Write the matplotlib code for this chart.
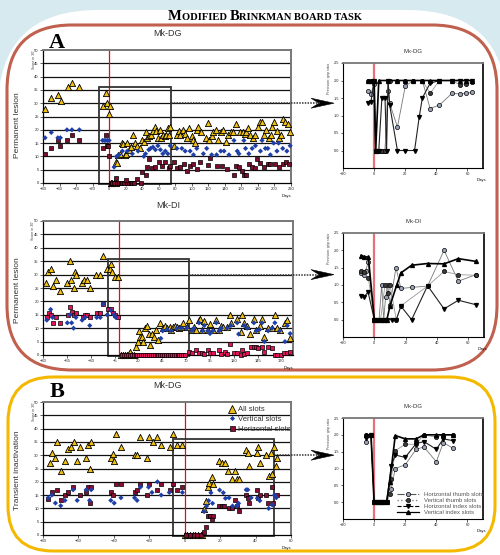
import numpy as np
import matplotlib
matplotlib.use('Agg')
import matplotlib.pyplot as plt
from matplotlib.patches import FancyBboxPatch, Rectangle, Polygon
from matplotlib.lines import Line2D
from matplotlib.offsetbox import TextArea, HPacker, AnnotationBbox

plt.rcParams['font.family'] = ['Liberation Sans', 'DejaVu Sans']

# ---------------- data ----------------
# A top: Mk-DG permanent lesion, score in 30'
a1_all = [(-77, 28), (-70, 32), (-62, 33), (-58, 31), (-50, 36), (-45, 37.5), (-36, 36),
          (-8, 29), (-4, 34), (-2, 30), (0, 26), (1, 29), (2, 0), (4, 0), (6, 0), (8, 0),
          (8, 8), (10, 7.5), (11, 10.5), (13, 11), (15, 15), (17, 14.5), (19, 10.5), (21, 11),
          (22, 15), (24, 12.5), (26, 13.5), (29, 18), (31, 15), (34, 14), (37, 13), (40, 16),
          (42, 15.5), (44, 19), (46, 17), (48, 17.5), (51, 18), (53, 19.5), (55, 21), (57, 19.5),
          (59, 17), (61, 20), (63, 17), (65, 18), (67, 17.5), (69, 18), (71, 20.5), (73, 18),
          (74, 21), (78, 14), (82, 18), (84, 19.5), (86, 18), (89, 20), (92, 18.5), (94, 17),
          (97, 20.5), (100, 17.5), (102, 16), (104, 15), (106, 20), (108, 21), (111, 19),
          (117, 17), (119, 22.5), (121, 16), (124, 17.5), (126, 19), (129, 20), (132, 16),
          (135, 19), (138, 20), (141, 15.5), (144, 18), (147, 19), (150, 19), (154, 22),
          (158, 19), (162, 19), (164, 18.5), (166, 19), (168, 20.5), (171, 18), (174, 17),
          (177, 18), (180, 21), (182, 23), (185, 23), (187, 18), (190, 20), (193, 17), (196, 18),
          (197, 21), (200, 23), (203, 19.5), (205, 17), (208, 18), (210, 24), (213, 23),
          (216, 22), (219, 19)]
a1_vert = [(-77.5, 17), (-70, 19), (-62, 17), (-59, 17), (-51, 20), (-45, 20), (-36, 20),
           (-8, 16), (-6, 16), (-4, 16), (-2, 16), (0, 16), (6, 6), (9, 10), (12, 10.6), (16, 12),
           (22, 12), (28, 11), (35, 12), (42, 10), (44, 11), (48, 12.5), (50, 13), (53, 13.5),
           (56, 12.5), (59, 14), (62, 12.5), (65, 11), (68, 12), (71, 11), (74, 14), (82, 13),
           (88, 13), (92, 12), (98, 12), (102, 10.6), (106, 13), (114, 11), (118, 13),
           (124, 10.6), (130, 10.6), (135, 12), (139, 12), (145, 10.6), (151, 16), (155, 12),
           (157, 11), (163, 16), (165, 13), (169, 11), (173, 13), (177, 14), (183, 12), (185, 16),
           (189, 13), (192, 13), (195, 10.6), (199, 15), (203, 12), (205, 15), (210, 13),
           (215, 12), (219, 14)]
a1_hor = [(-77, 11), (-70, 13), (-62, 16), (-59, 14), (-51, 16), (-45, 18), (-36, 16),
          (-8, 13), (-4, 18), (-2.5, 14), (-1, 14), (0, 10), (2, 0), (4, 0), (6, 0), (10, 0),
          (12, 0), (14, 0), (16, 0), (18, 0), (22, 0), (24, 0), (26, 0), (28, 0), (30, 0),
          (8, 2), (20, 1), (34, 1.5), (38, 0), (40, 4), (44, 3), (46, 6), (48, 9), (52, 5.6),
          (56, 6), (60, 8), (64, 6.5), (68, 8), (72, 5.6), (74, 6.5), (78, 8), (82, 5.6),
          (86, 6.2), (90, 7.2), (94, 4.4), (98, 6.5), (102, 7.2), (106, 5.2), (110, 7.8),
          (120, 6.9), (122, 9.4), (130, 6.5), (137, 6.5), (143, 5.2), (151, 3.1), (153, 6.5),
          (157, 6), (161, 4.4), (163, 3.1), (166, 3.1), (169, 7.2), (173, 6.2), (177, 5.6),
          (179, 9.1), (183, 7.5), (187, 6.2), (192, 7.2), (195, 7.2), (201, 7.2), (205, 6.2),
          (210, 7), (214, 8), (218, 7)]

# A bottom: Mk-DI permanent lesion
a2_all = [(-76.4, 26.9), (-74.5, 31), (-72, 32), (-70, 25.7), (-66, 28), (-62.5, 24),
          (-54.5, 27), (-51.7, 35), (-51, 28), (-48, 25), (-46.6, 31), (-45.5, 30), (-39, 27),
          (-37, 28), (-33.5, 28), (-31, 25), (-24.4, 30), (-20, 30), (-17, 37), (-12.8, 32),
          (-10, 32), (-9, 34), (-7.3, 31), (-4.4, 29), (-1.9, 29), (2, 0), (4, 0), (6, 0),
          (8, 0), (10, 0.5), (11, 1), (13, 0), (15, 0), (17.4, 3), (20, 5), (21, 9), (21.7, 6.6),
          (23.5, 6.8), (25, 5), (27, 10), (29, 11), (30.8, 8), (32.6, 3.7), (34.5, 8), (36, 6.8),
          (38, 9.3), (40, 5.6), (42.8, 12), (45.4, 10), (48, 11), (50, 10), (52.6, 10.5),
          (54.5, 9.3), (56, 10.5), (58, 11), (60, 10.5), (62.5, 10), (65, 10.5), (67, 12),
          (70.8, 10.5), (72.6, 13), (76, 9.3), (78, 10.5), (80.6, 9.3), (83.5, 13), (85, 13.6),
          (87, 9.3), (89, 12.8), (92.6, 9.3), (95, 11.5), (98, 9.3), (101.7, 13), (104.6, 9.3),
          (107, 10.8), (109, 10.5), (113, 10.3), (115.5, 15), (117, 12), (123.5, 13.6),
          (127, 8.7), (129, 15), (130.8, 11.8), (134, 11), (137, 7.8), (141, 13.6), (143.5, 9.3),
          (147, 11), (149.6, 13.6), (152, 6.8), (156, 10), (160, 10), (163, 15), (165, 10),
          (168, 9.3), (173.6, 12), (176, 13), (179, 6.5)]
a2_vert = [(-76, 13), (-72, 17), (-70, 14), (-54.5, 12), (-51.7, 15), (-50, 12), (-48, 10),
           (-45.5, 14), (-39, 13), (-36, 14), (-31, 11), (-23.7, 14), (-20, 14), (-17, 19),
           (-12.8, 15), (-9, 16.7), (-5.5, 15), (-3.7, 14), (43.5, 6.2), (45.4, 9), (50, 9.5),
           (54.5, 9), (60, 10), (65, 10), (70.8, 10), (76, 9), (78, 10), (83.5, 12), (87, 9),
           (89, 11), (92.6, 9), (95, 8), (98, 9), (101.7, 12), (104.6, 9), (107, 10), (113, 10),
           (117, 11), (123.5, 12), (125, 7.8), (130.8, 11), (134, 10), (141, 12), (143.5, 9),
           (147, 9.5), (149.6, 12), (152, 5), (156, 9), (160, 10), (163, 12), (168, 9),
           (173.6, 5), (176, 11), (179, 8)]
a2_hor = [(-76, 14), (-74, 15.8), (-72, 15), (-70, 12), (-66, 14), (-62, 12), (-54, 15),
          (-51.7, 18), (-50, 16), (-47, 15), (-45.5, 15.7), (-38, 14), (-36, 15), (-33.5, 15),
          (-31, 14), (-23.7, 15.7), (-20, 15.7), (-17, 19), (-11.7, 17), (-9, 17), (-6.6, 15.7),
          (-4.4, 15), (-1.9, 14), (3, 0), (5, 0), (7, 0), (9, 0), (11, 0), (13, 0), (15, 0),
          (17, 0), (19, 0), (21, 0), (23, 0), (25, 0), (27, 0), (29, 0), (31, 0), (33, 0),
          (35, 0), (37, 0), (39, 0), (41, 0), (43, 0), (45, 0), (47, 0), (49, 0), (51, 0),
          (53, 0), (55, 0), (57, 0), (59, 0), (61, 0), (63, 0), (65, 0), (67, 0), (69, 0),
          (72.6, 1.2), (76, 0.8), (80.6, 1.9), (83.5, 0.6), (87, 0.8), (89, 0.4), (92.6, 1.9),
          (95, 0.6), (98, 0.8), (104.6, 1.9), (107, 0.4), (111, 1.2), (113, 0.4), (115.5, 4),
          (120, 0.8), (123.5, 0.6), (127, 0), (129, 1.9), (130.8, 0.4), (134, 0.6), (138, 3),
          (141, 3), (143.5, 3), (145, 2.5), (149, 3), (152, 1.2), (156, 3), (160, 2.5), (163, 0),
          (165, 0), (169, 0), (173, 0.6), (176, 0.6), (179, 1)]

# B: Mk-DG transient inactivation
b_all = [(-76, 27), (-75, 31), (-73, 29), (-72, 35), (-70, 24), (-67.6, 28), (-66, 32.5),
         (-64, 33), (-62.6, 35), (-60.7, 28), (-59, 33), (-55.6, 29), (-54.6, 34), (-53.7, 25),
         (-52.8, 35), (-41.7, 29), (-40.7, 30.6), (-39.8, 28), (-38.9, 38), (-36, 33),
         (-28.3, 30), (-26.9, 30), (-25, 37), (-21.3, 29), (-20.4, 37), (-18, 35), (-15.4, 37),
         (-13.3, 34), (-8.3, 33), (-6.5, 38), (-4.6, 34), (-1.5, 34), (0, 0), (1.5, 0), (3, 0),
         (4.5, 0), (6, 0), (7.5, 0), (9, 0), (10, 0), (11, 9.6), (12, 12.9), (13, 17.9),
         (13.8, 19.6), (15.3, 21.9), (16, 19), (19.4, 28), (21, 27), (22.7, 27), (24.5, 24),
         (26.7, 21), (28.6, 24), (29.5, 21), (30.4, 21), (34.5, 32), (35.6, 31), (36.5, 26),
         (40.6, 31), (41.5, 33), (42.4, 27), (46, 30), (47.4, 22), (48.5, 31), (49.4, 23),
         (50.4, 33), (51.3, 26), (52.2, 29)]
b_vert = [(-77, 14), (-75, 15), (-73, 12), (-70, 11), (-67.6, 13), (-63, 17), (-60.7, 13),
          (-55.6, 17), (-53.7, 13), (-52.8, 17), (-41.7, 13), (-39.8, 12), (-36, 14),
          (-28.3, 14), (-26.9, 13), (-25, 18), (-20.4, 18), (-18.5, 16), (-15.4, 20),
          (-13.3, 15), (-8.7, 16), (-1.3, 16), (11, 8.8), (12.4, 10.9), (13.5, 12.9),
          (14.8, 15.9), (15.7, 11.9), (19.7, 16.9), (21.8, 15.9), (23, 13.8), (25, 14),
          (27, 10.9), (29.5, 10.9), (30.4, 11.9), (34.7, 17), (35.6, 17), (37.5, 14),
          (41, 13.8), (42.4, 12.9), (47.4, 10), (49.4, 11.3), (50.7, 15), (51.7, 14)]
b_hor = [(-77, 13.4), (-75, 16), (-72, 17), (-70, 13), (-67.6, 15), (-66, 16), (-63, 18),
         (-59, 15), (-55.6, 16), (-54.6, 18), (-53.7, 12), (-52.8, 18), (-41.7, 16),
         (-40.7, 15), (-38.9, 19), (-36, 19), (-28.3, 16), (-26.9, 17), (-25, 19), (-21.3, 15),
         (-20.4, 19), (-15.4, 17), (-13.3, 19), (-8.3, 17), (-6.5, 19), (-4.6, 17), (-1.5, 18),
         (1, 0), (3, 0), (5, 0), (7, 0), (9, 0), (11, 1.2), (12, 3), (13, 7), (14.2, 7),
         (15.3, 6), (16, 7), (19.4, 11), (20.8, 11), (22, 11), (25, 10), (26.7, 10),
         (28.6, 13), (29.5, 11), (30.4, 9), (34.7, 15), (36, 14), (36.5, 12), (40.6, 17),
         (41.5, 13.8), (42.4, 15), (46, 15), (47.1, 12), (49.3, 18), (49.8, 12), (52.2, 15)]

# right-hand panels: precision grip ratio, per slot type
a1r_ht = ([-4, -2, 0, 1, 3, 5, 7, 9, 10, 15, 20, 25, 31, 36, 42, 50, 55, 59, 63],
          [1.7, 1.62, 1.9, 0, 0, 0, 0, 1.7, 1.35, 0.67, 1.83, 2.0, 2.0, 1.2, 1.3, 1.63, 1.62, 1.63, 1.66])
a1r_vt = ([-4, -2, 0, 1, 3, 5, 7, 9, 10, 15, 20, 25, 31, 36, 42, 50, 55, 59, 63],
          [2.0, 2.0, 2.0, 0, 0, 0, 0, 2.0, 2.0, 2.0, 2.0, 2.0, 2.0, 1.63, 2.0, 2.0, 1.88, 1.9, 1.95])
a1r_hi = ([-4, -2, 0, 1, 3, 5, 7, 8, 9, 10, 15, 20, 26, 29, 31, 36, 42, 50, 55, 59, 63],
          [1.37, 1.4, 2.0, 0, 0, 1.5, 1.5, 0, 2.0, 1.3, 0, 0, 0, 0.96, 1.5, 1.92, 2.0, 2.0, 2.0, 2.0, 2.0])
a1r_vi = ([-4, -2, 0, 1, 3, 9, 15, 20, 25, 31, 36, 42, 50, 55, 59, 63],
          [2, 2, 2, 0, 2, 2, 2, 2, 2, 2, 2, 2, 2, 2, 2, 2])

a2r_ht = ([-8.5, -6.4, -5.5, -4, 0, 2, 3, 4.7, 6, 7.2, 8.5, 10, 13.8, 17, 23.8, 34, 44.5, 53.6, 65],
          [1.35, 1.3, 1.4, 1.66, 0, 0, 0, 1.0, 0, 0.66, 1.0, 0.43, 1.5, 0.9, 0.93, 0.97, 2.0, 1.11, 1.3])
a2r_vt = ([-8.5, -6.4, -3.8, 0, 2, 4, 6.8, 9, 10, 14, 17, 34, 44.5, 53.6, 65],
          [1.4, 1.38, 1.2, 0, 0, 0, 1.0, 0.76, 1.0, 0, 0.4, 0.97, 1.39, 1.3, 1.28])
a2r_hi = ([-8.5, -6.4, -4, 0, 2, 4, 6, 8, 11, 14, 17, 23.8, 34, 44.5, 53.6, 65],
          [0.68, 0.66, 0.8, 0, 0, 0, 0, 0, 0, 0, 0.39, 0, 0.98, 0.31, 0.56, 0.43])
a2r_vi = ([-8.5, -6.4, -3.8, 0, 2, 4, 6, 8, 10, 14.3, 17, 23.8, 34, 44.5, 53.6, 65],
          [1.85, 1.82, 1.8, 0, 0, 0, 0, 0, 0.4, 1.0, 1.35, 1.57, 1.62, 1.61, 1.76, 1.68])

br_ht = ([-5.5, -2, 0, 2, 4, 6, 8, 11, 13.6, 20, 27, 32, 40, 44.5, 50.4],
         [1.8, 2.0, 0, 0, 0, 0, 0, 0.39, 1.0, 1.11, 1.57, 1.64, 1.2, 1.77, 1.61])
br_vt = ([-5.5, -2, 0, 2, 4, 6, 8, 10, 11, 13.6, 20, 27, 32, 40, 44.5, 50.4],
         [2.0, 2.0, 0, 0, 0, 0, 0, 0.24, 0.68, 1.53, 1.72, 1.72, 2.0, 1.93, 2.0, 2.0])
br_hi = ([-5.5, -2, 0, 2, 4, 6, 8, 11, 13.6, 20, 27, 32, 40, 44.5, 50.4],
         [1.9, 2.0, 0, 0, 0, 0, 0, 1.08, 1.4, 1.33, 1.74, 1.8, 1.57, 1.88, 1.83])
br_vi = ([-5.5, -2, 0, 2, 4, 6, 8, 10, 13.6, 20, 27, 32, 40, 44.5, 50.4],
         [2.0, 2.0, 0, 0, 0, 0, 0, 0.6, 1.98, 1.88, 1.88, 2.0, 2.0, 2.0, 2.0])

slot_labels = ['Horizontal thumb slots', 'Vertical thumb slots',
               'Horizontal index slots', 'Vertical index slots']

# ---------------- figure ----------------
W, H = 500, 555
fig = plt.figure(figsize=(W / 100, H / 100), dpi=100, facecolor='#d6eaf0')


def rect(x0, y0, x1, y1):
    return [x0 / W, 1 - y1 / H, (x1 - x0) / W, (y1 - y0) / H]


bg = fig.add_axes([0, 0, 1, 1], zorder=0)
bg.set_xlim(0, W)
bg.set_ylim(H, 0)
bg.axis('off')
bg.add_patch(FancyBboxPatch((-2, 10), 509, 700, boxstyle='round,pad=0,rounding_size=100',
                            fc='white', ec='none'))
bg.add_patch(FancyBboxPatch((7, 25), 490, 345, boxstyle='round,pad=0,rounding_size=65',
                            fc='none', ec='#c0604e', lw=2.2))
bg.add_patch(FancyBboxPatch((8, 377), 487, 174, boxstyle='round,pad=0,rounding_size=45',
                            fc='none', ec='#f5b800', lw=2.2))

ov = fig.add_axes([0, 0, 1, 1], zorder=10)
ov.set_xlim(0, W)
ov.set_ylim(0, H)
ov.axis('off')
ov.patch.set_alpha(0)

# headline in fake small caps
parts = [('M', 10.5), ('ODIFIED ', 7.6), ('B', 10.5), ('RINKMAN BOARD TASK', 7.6)]
boxes = [TextArea(t, textprops=dict(fontsize=s, family='Liberation Serif', fontweight='bold'))
         for t, s in parts]
pack = HPacker(children=boxes, align='baseline', pad=0, sep=0)
fig.add_artist(AnnotationBbox(pack, (265 / W, 1 - 16 / H), xycoords='figure fraction',
                              frameon=False, box_alignment=(0.5, 0.5)))

fig.text(57 / W, 1 - 48 / H, 'A', fontsize=16, family='Liberation Serif', fontweight='bold',
         ha='center', va='baseline')
fig.text(57 / W, 1 - 397 / H, 'B', fontsize=16, family='Liberation Serif', fontweight='bold',
         ha='center', va='baseline')


def left_panel(r, xlim, xticks, pts_all, pts_vert, pts_hor, box, sq_color, title, ylab, ylab_y):
    ax = fig.add_axes(rect(*r), zorder=2)
    ax.set_xlim(*xlim)
    ax.set_ylim(0, 50)
    ax.set_xticks(xticks)
    ax.set_yticks(range(0, 51, 5))
    for v in range(5, 50, 5):
        ax.axhline(v, color='#111111', lw=0.9, zorder=1)
    ax.axvline(0, color='#e01010', lw=0.9, zorder=2)
    ax.add_patch(Rectangle((box[0], -0.3), box[1] - box[0], 36.3, fill=False, ec='#333333',
                           lw=1.3, zorder=2, clip_on=False))
    ax.plot([box[1], xlim[1]], [30, 30], ls=(0, (1, 0.8)), color='#333333', lw=1.1, zorder=2)
    x, y = np.array(pts_all).T
    ax.scatter(x, y, s=20, marker='^', fc='#f0c010', ec='k', lw=0.6, zorder=4, clip_on=False)
    x, y = np.array(pts_hor).T
    ax.scatter(x, y, s=11, marker='s', fc=sq_color, ec='k', lw=0.5, zorder=5, clip_on=False)
    x, y = np.array(pts_vert).T
    ax.scatter(x, y, s=7, marker='D', fc='#1f3fa8', ec='none', zorder=6, clip_on=False)
    ax.tick_params(labelsize=3, length=2, width=0.5, pad=1, colors='#222222')
    for s in ['left', 'bottom']:
        ax.spines[s].set_linewidth(0.9)
    for s in ['top', 'right']:
        ax.spines[s].set_color('#777777')
        ax.spines[s].set_linewidth(1.4)
    ax.text(1.0, -0.085, 'Days', transform=ax.transAxes, fontsize=3, ha='right', va='top')
    ax.text(-0.038, 1.0, "Score in 30'", transform=ax.transAxes, fontsize=2.6, rotation=90,
            ha='center', va='top', color='#444444')
    fig.text((r[0] + r[2]) / 2 / W, 1 - (r[1] - 16) / H, title, fontsize=6.5, ha='center',
             va='center', color='#333333')
    fig.text(18 / W, 1 - ylab_y / H, ylab, fontsize=6, rotation=90, ha='center', va='center',
             color='#333333')
    # dotted link and arrowhead towards the zoomed panel
    px, py = ax.transData.transform((xlim[1], 30))
    ov.plot([px, 320], [py, py], ls=(0, (1, 0.8)), color='#333333', lw=1.1)
    ov.add_patch(Polygon([(311, py + 5), (334, py), (311, py - 5), (319, py)], closed=True,
                         fc='k', ec='k', lw=0.4))
    return ax


def right_panel(r, series, title, legend=False):
    ax = fig.add_axes(rect(*r), zorder=2)
    ax.set_xlim(-20, 70)
    ax.set_ylim(-0.5, 2.5)
    ax.set_xticks([-20, 0, 20, 40, 60])
    ax.set_yticks([0, 0.5, 1.0, 1.5, 2.0, 2.5])
    ax.set_yticklabels(['%.1f' % v for v in [0, 0.5, 1.0, 1.5, 2.0, 2.5]])
    ax.axvline(0, color='#e8707a', lw=1.6, zorder=1)
    ht, vt, hi, vi = series
    ax.plot(*ht, '-', color='#777777', lw=0.6, marker='o', ms=3, mfc='#9aa3b8', mec='k', mew=0.5, zorder=3)
    ax.plot(*vt, '-', color='#999999', lw=0.6, marker='o', ms=3, mfc='#3c3c3c', mec='k', mew=0.5, zorder=3)
    ax.plot(*hi, '-', color='#222222', lw=0.8, marker='v', ms=2.8, mfc='k', mec='k', zorder=4)
    ax.plot(*vi, '-', color='k', lw=1.2, marker='^', ms=2.8, mfc='k', mec='k', zorder=5)
    ax.tick_params(labelsize=2.8, length=1.8, width=0.5, pad=1, colors='#222222')
    ax.spines['top'].set_color('#777777')
    ax.spines['top'].set_linewidth(1.3)
    ax.spines['right'].set_linewidth(1.2)
    ax.spines['left'].set_linewidth(0.8)
    ax.spines['bottom'].set_linewidth(0.8)
    ax.text(1.02, -0.1, 'Days', transform=ax.transAxes, fontsize=3, ha='right', va='top')
    ax.text(-0.1, 1.0, 'Precision: grip ratio', transform=ax.transAxes, fontsize=2.6,
            rotation=90, ha='center', va='top', color='#444444')
    ax.set_title(title, fontsize=4.3, pad=7, color='#333333')
    if legend:
        handles = [
            Line2D([], [], ls='-.', color='#555555', lw=0.8, marker='o', ms=3, mfc='#9aa3b8', mec='k', mew=0.5),
            Line2D([], [], ls=':', color='#888888', lw=1.0, marker='o', ms=3, mfc='#3c3c3c', mec='k', mew=0.5),
            Line2D([], [], ls='--', color='k', lw=0.8, marker='v', ms=2.8, mfc='k', mec='k'),
            Line2D([], [], ls='-', color='k', lw=0.9, marker='^', ms=2.8, mfc='k', mec='k'),
        ]
        leg = ax.legend(handles, slot_labels, loc='lower right', bbox_to_anchor=(1.03, 0.0),
                        fontsize=4.3, frameon=False, handlelength=3.6, handletextpad=0.8,
                        labelspacing=0.12, borderpad=0.2)
        for t in leg.get_texts():
            t.set_color('#555555')
    return ax


left_panel((43, 50, 291, 183), (-80, 220), range(-80, 221, 20), a1_all, a1_vert, a1_hor,
           (-12, 75), '#7a0c2e', 'Mk-DG', 'Permanent lesion', 125)
left_panel((43, 221, 293, 355), (-80, 182), range(-80, 171, 25), a2_all, a2_vert, a2_hor,
           (-12, 73), '#e0135a', 'Mk-DI', 'Permanent lesion', 290)
axb = left_panel((43, 402, 291, 535), (-80, 60), range(-80, 61, 20), b_all, b_vert, b_hor,
                 (-6.5, 50.5), '#8a0c34', 'Mk-DG', 'Transient inactivation', 470)

lh = [Line2D([], [], ls='none', marker='^', ms=5.5, mfc='#f0c010', mec='k', mew=0.6),
      Line2D([], [], ls='none', marker='D', ms=2.6, mfc='#1f3fa8', mec='none'),
      Line2D([], [], ls='none', marker='s', ms=3.6, mfc='#8a0c34', mec='k', mew=0.5)]
leg = axb.legend(lh, ['All slots', 'Vertical slots', 'Horizontal slots'], loc='upper right',
                 bbox_to_anchor=(1.02, 1.01), fontsize=5.5, frameon=False, handlelength=0.9,
                 handletextpad=0.3, labelspacing=0.3, borderpad=0.2)
leg.set_zorder(8)
for t in leg.get_texts():
    t.set_color('#333333')

right_panel((343, 63, 483, 168), (a1r_ht, a1r_vt, a1r_hi, a1r_vi), 'Mk-DG')
right_panel((343, 233, 484, 337), (a2r_ht, a2r_vt, a2r_hi, a2r_vi), 'Mk-DI')
right_panel((343, 418, 483, 519), (br_ht, br_vt, br_hi, br_vi), 'Mk-DG', legend=True)

fig.savefig('out.png', dpi=100, facecolor=fig.get_facecolor())
